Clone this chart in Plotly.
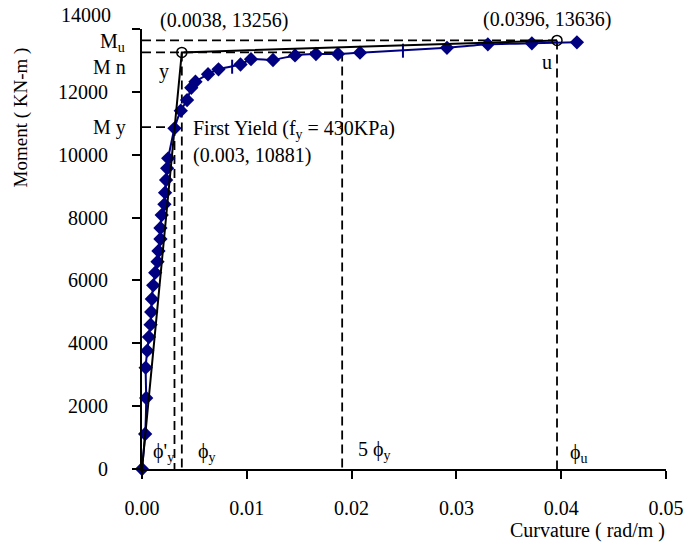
import plotly.graph_objects as go

# ---------------- data ----------------
curv = [0, 0.0003, 0.0004, 0.00035, 0.0005, 0.00066, 0.00082, 0.00088, 0.00094,
        0.00107, 0.00126, 0.00148, 0.00157, 0.00176, 0.00176, 0.00188, 0.00214,
        0.0022, 0.0023, 0.0024, 0.0025, 0.0031, 0.0037, 0.0043, 0.0047, 0.0051,
        0.0063, 0.0073, 0.0094, 0.0104, 0.0125, 0.0146, 0.0166, 0.0187, 0.0208,
        0.0291, 0.033, 0.0372, 0.0415]
moment = [0, 1114, 2259, 3223, 3765, 4200, 4592, 4995, 5409,
          5845, 6246, 6596, 6936, 7318, 7668, 8081, 8422,
          8791, 9195, 9567, 9886, 10840, 11400, 11740, 12130, 12322,
          12560, 12717, 12870, 13040, 13013, 13160, 13204, 13204, 13246,
          13400, 13512, 13544, 13576]
tick_curv = [0.0086, 0.0249]
tick_moment = [12800, 13310]

phi_y1, M_y = 0.0031, 10881       # first yield
phi_y, M_n = 0.0038, 13256        # idealised yield
phi_u, M_u = 0.0396, 13636        # ultimate
phi_5y = 0.0191                   # 5 phi_y

bilin_x = [0, phi_y, phi_u]
bilin_y = [0, M_n, M_u]

y_ticks = [0, 2000, 4000, 6000, 8000, 10000, 12000, 14000]
y_ticktext = ["0", "2000", "4000", "6000", "8000", "10000", "12000", " "]
x_ticks = [0, 0.01, 0.02, 0.03, 0.04, 0.05]
x_ticktext = ["0.00", "0.01", "0.02", "0.03", "0.04", "0.05"]

FONT = "Liberation Serif"
NAVY = "#000080"
FS = 20

fig = go.Figure()

dash = "9px,5px"
def dline(xs, ys):
    fig.add_trace(go.Scatter(x=xs, y=ys, mode="lines", showlegend=False,
                             line=dict(color="black", width=1.8, dash=dash),
                             hoverinfo="skip", cliponaxis=False))

# dashed reference lines
dline([0, phi_u], [M_u, M_u])
dline([0, phi_5y], [M_n, M_n])
dline([0, phi_y1], [M_y, M_y])
dline([phi_y1, phi_y1], [M_y, 0])
dline([phi_y, phi_y], [M_n, 0])
dline([phi_5y, phi_5y], [M_n, 0])
dline([phi_u, phi_u], [M_u, 0])

# moment-curvature curve
fig.add_trace(go.Scatter(x=curv, y=moment, mode="lines+markers", showlegend=False,
                         line=dict(color=NAVY, width=2, shape="spline", smoothing=0.4),
                         marker=dict(symbol="diamond", size=11, color=NAVY),
                         cliponaxis=False))
fig.add_trace(go.Scatter(x=tick_curv, y=tick_moment, mode="markers", showlegend=False,
                         marker=dict(symbol="line-ns", size=10, color=NAVY,
                                     line=dict(color=NAVY, width=2)),
                         cliponaxis=False))

# bilinear idealisation
fig.add_trace(go.Scatter(x=bilin_x, y=bilin_y, mode="lines", showlegend=False,
                         line=dict(color="black", width=2), cliponaxis=False))
fig.add_trace(go.Scatter(x=[phi_y, phi_u], y=[M_n, M_u], mode="markers", showlegend=False,
                         marker=dict(symbol="circle-open", size=10, color="black",
                                     line=dict(color="black", width=1.5)),
                         cliponaxis=False))

def ann(x, y, text, xanchor="center", yanchor="middle", xref="x", yref="y",
        xshift=0, yshift=0, size=FS, angle=0):
    fig.add_annotation(x=x, y=y, xref=xref, yref=yref, text=text, showarrow=False,
                       xanchor=xanchor, yanchor=yanchor, xshift=xshift, yshift=yshift,
                       textangle=angle, font=dict(family=FONT, size=size, color="black"))

ann(phi_y, M_n, "(0.0038, 13256)", xshift=42, yshift=32)
ann(phi_u, M_u, "(0.0396, 13636)", xshift=-10, yshift=21)
ann(0, M_u, "M<sub>u</sub>", xanchor="right", xshift=-15, yshift=-2)
ann(0, M_n, "M n", xanchor="right", xshift=-14, yshift=-15)
ann(0, M_y, "M y", xanchor="right", xshift=-14, yshift=0)
ann(phi_y, M_n, "y", xshift=-18, yshift=-19)
ann(phi_u, M_u, "u", xshift=-10, yshift=-22)
ann(phi_y1, M_y, "First Yield (f<sub>y</sub> = 430KPa)", xanchor="left", xshift=17, yshift=-2)
ann(phi_y1, M_y, "(0.003, 10881)", xanchor="left", xshift=17, yshift=-28)
ann(0, 0, "ϕ'<sub>y</sub>", xanchor="left", xshift=9, yshift=17)
ann(phi_y, 0, "ϕ<sub>y</sub>", xanchor="left", xshift=14, yshift=17)
ann(phi_5y, 0, "5 ϕ<sub>y</sub>", xanchor="left", xshift=14, yshift=19)
ann(phi_u, 0, "ϕ<sub>u</sub>", xanchor="left", xshift=11, yshift=16)
ann(0, 14000, "14000", xanchor="right", xshift=-29, yshift=14)

# axis titles
ann(0.85, -0.139, "Curvature ( rad/m )", xref="paper", yref="paper", size=FS)
ann(-0.23, 0.8, "Moment ( KN-m )", xref="paper", yref="paper", size=FS - 1, angle=-90)

fig.update_layout(
    width=696, height=548,
    margin=dict(l=142, r=23, t=29, b=79),
    paper_bgcolor="white", plot_bgcolor="white",
    font=dict(family=FONT, size=FS, color="black"),
    showlegend=False,
)
fig.update_xaxes(range=[0, 0.05], tickmode="array", tickvals=x_ticks, ticktext=x_ticktext,
                 showgrid=False, zeroline=False, showline=True, linecolor="black",
                 linewidth=2, ticks="outside", ticklen=8, tickwidth=2, tickcolor="black",
                 ticklabelstandoff=12, tickfont=dict(family=FONT, size=FS, color="black"))
fig.update_yaxes(range=[0, 14000], tickmode="array", tickvals=y_ticks, ticktext=y_ticktext,
                 showgrid=False, zeroline=False, showline=True, linecolor="black",
                 linewidth=2, ticks="outside", ticklen=8, tickwidth=2, tickcolor="black",
                 ticklabelstandoff=20, tickfont=dict(family=FONT, size=FS, color="black"))

fig.write_html("out.html")
